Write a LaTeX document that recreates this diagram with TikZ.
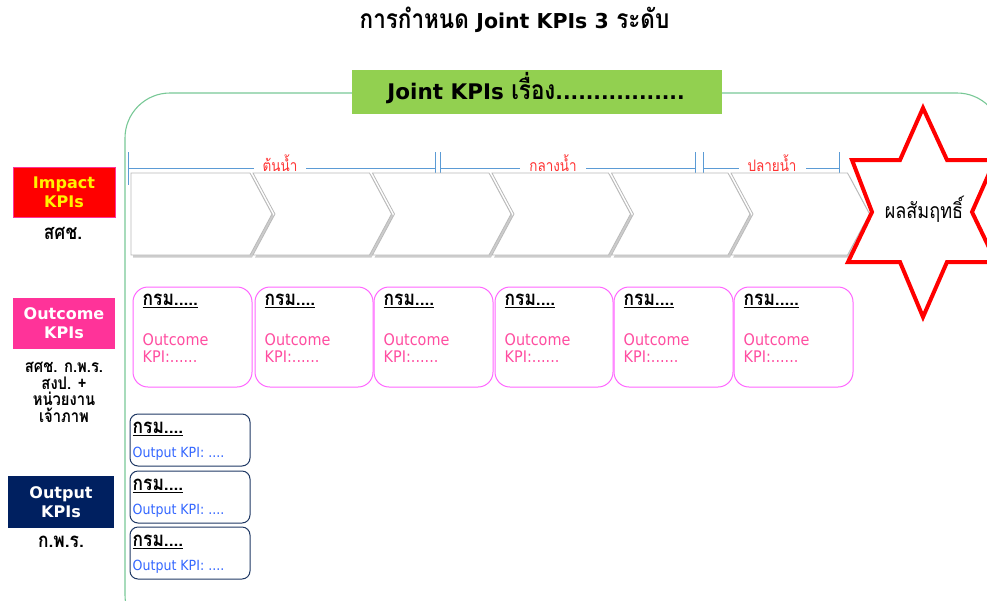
\documentclass[tikz,border=0pt]{standalone}
\usepackage{fontspec}
\usetikzlibrary{calc}
\newfontfamily\thf[Script=Thai,Scale=1.2,FakeStretch=0.85]{Loma}
\newfontfamily\latr[FakeStretch=0.9]{DejaVu Sans}
\newfontfamily\latb{DejaVu Sans}
\definecolor{framegreen}{RGB}{120,200,150}
\definecolor{bannergreen}{RGB}{146,208,80}
\definecolor{dimblue}{RGB}{91,155,213}
\definecolor{dimred}{RGB}{255,51,51}
\definecolor{hotpink}{RGB}{255,51,153}
\definecolor{ocpink}{RGB}{255,77,160}
\definecolor{ocborder}{RGB}{255,102,255}
\definecolor{navy}{RGB}{0,32,96}
\definecolor{opborder}{RGB}{31,56,100}
\definecolor{opblue}{RGB}{51,102,255}
\def\dfive{.....}
\def\dfour{....}
\begin{document}
\begin{tikzpicture}[x=1pt,y=-1pt,
  dim/.style={draw=dimblue,line width=1pt},
  dimlabel/.style={fill=white,inner xsep=9pt,inner ysep=1pt,text=dimred,font=\thf\fontsize{13.2}{15}\selectfont},
  chev/.style={fill=white,draw=gray!55,line width=0.8pt},
  chevshadow/.style={fill=gray!40},
  levelbox/.style={minimum width=102pt,minimum height=50pt,inner sep=0pt,align=center,font=\latb\bfseries\fontsize{16}{19}\selectfont},
  orgtext/.style={font=\thf\bfseries\fontsize{17}{19}\selectfont,anchor=base west,inner sep=0pt},
  ocbox/.style={draw=ocborder,line width=1pt,rounded corners=15pt,minimum height=100pt,inner sep=0pt},
  oclabel/.style={text=ocpink,font=\latr\fontsize{16}{17}\selectfont,anchor=base west,inner sep=0pt},
  opbox/.style={draw=opborder,line width=1pt,rounded corners=8pt,minimum width=120pt,minimum height=52pt,inner sep=0pt},
  oplabel/.style={text=opblue,font=\latr\fontsize{14}{16}\selectfont,anchor=base west,inner sep=0pt},
  who/.style={font=\thf\bfseries\fontsize{17}{17}\selectfont,align=center,inner sep=0pt},
  wholine/.style={font=\thf\bfseries\fontsize{14.5}{16}\selectfont,anchor=base,inner sep=0pt}
]
\useasboundingbox (0,0) rectangle (987,600);
\clip (0,0) rectangle (987,600);

% title
\node[inner sep=0pt,anchor=base] (title) at (514.5,28) {\thf\bfseries\fontsize{22}{24}\selectfont การกำหนด {\latb\fontsize{20.5}{24}\selectfont Joint KPIs 3} ระดับ};

% frame
\draw[framegreen,line width=1.1pt,rounded corners=45pt] (125,93) rectangle (1002,640);

% banner
\node[fill=bannergreen,minimum width=370pt,minimum height=44pt,inner sep=0pt] (banner) at (537,92) {};
\node[inner sep=0pt,anchor=base] (bannertext) at (536,99)
  {{\latb\bfseries\fontsize{21.5}{24}\selectfont Joint KPIs }{\thf\bfseries\fontsize{22}{24}\selectfont เรื่อง}{\latb\bfseries\fontsize{20}{24}\selectfont .................}};

% dimension lines
\coordinate (d0) at (128,168);
\coordinate (d1) at (435,168);
\coordinate (d2) at (440,168);
\coordinate (d3) at (695,168);
\coordinate (d4) at (703,168);
\coordinate (d5) at (839,168);
\foreach \c in {d0,d1,d2,d3,d4,d5}{
  \draw[dim] ($(\c)+(0,-16)$) -- ($(\c)+(0,17)$);
}
\draw[dim] (d0) -- (d1);
\draw[dim] (d2) -- (d3);
\draw[dim] (d4) -- (d5);
\node[dimlabel,anchor=base] (up) at (280,171) {ต้นน้ำ};
\node[dimlabel,anchor=base] (mid) at (553,171) {กลางน้ำ};
\node[dimlabel,anchor=base] (down) at (772,171) {ปลายน้ำ};

% chevrons
\begin{scope}[shift={(2,2.5)}]
\fill[chevshadow] (131,173) -- (250,173) -- (272,214) -- (250,255) -- (131,255) -- cycle;
\foreach \i in {1,2,3,4,5}{
  \pgfmathsetmacro\a{272+119.5*(\i-1)}
  \pgfmathsetmacro\b{272+119.5*\i}
  \fill[chevshadow] (\a-19,173) -- (\b-22,173) -- (\b,214) -- (\b-22,255) -- (\a-19,255) -- (\a+3,214) -- cycle;
}
\end{scope}
\filldraw[chev] (131,173) -- (250,173) -- (272,214) -- (250,255) -- (131,255) -- cycle;
\foreach \i in {1,2,3,4,5}{
  \pgfmathsetmacro\a{272+119.5*(\i-1)}
  \pgfmathsetmacro\b{272+119.5*\i}
  \filldraw[chev] (\a-19,173) -- (\b-22,173) -- (\b,214) -- (\b-22,255) -- (\a-19,255) -- (\a+3,214) -- cycle;
}

% star
\coordinate (s1) at (923,108);
\coordinate (s2) at (947,160);
\coordinate (s3) at (995,160);
\coordinate (s4) at (972,212);
\coordinate (s5) at (996,262);
\coordinate (s6) at (947,262);
\coordinate (s7) at (923,317);
\coordinate (s8) at (900,262);
\coordinate (s9) at (848,262);
\coordinate (s10) at (872,212);
\coordinate (s11) at (852,160);
\coordinate (s12) at (900,160);
\fill[gray!40,shift={(3,3)}] (s1)--(s2)--(s3)--(s4)--(s5)--(s6)--(s7)--(s8)--(s9)--(s10)--(s11)--(s12)--cycle;
\filldraw[fill=white,draw=red,line width=4pt,line join=miter] (s1)--(s2)--(s3)--(s4)--(s5)--(s6)--(s7)--(s8)--(s9)--(s10)--(s11)--(s12)--cycle;
\node[inner sep=0pt,anchor=base,font=\thf\fontsize{17.7}{19}\selectfont] (result) at (924,218) {ผลสัมฤทธิ์};

% level boxes
\node[levelbox,fill=red,draw=hotpink,text=yellow] (impact) at (64,192) {Impact\\KPIs};
\node[who,anchor=base] (impactwho) at (63,239) {สศช.};
\node[levelbox,fill=hotpink,text=white,minimum height=51pt] (outcome) at (64,323.5) {Outcome\\KPIs};
\node[wholine] (ow1) at (64,372) {สศช. ก.พ.ร.};
\node[wholine] (ow2) at (64,389) {สงป. +};
\node[wholine] (ow3) at (64,405.5) {หน่วยงาน};
\node[wholine] (ow4) at (64,422) {เจ้าภาพ};
\node[levelbox,fill=navy,text=white,minimum width=106pt,minimum height=52pt] (output) at (61,502) {Output\\KPIs};
\node[who,anchor=base] (outputwho) at (61,547) {ก.พ.ร.};

% outcome boxes
\foreach \n/\cx/\w/\dd in {1/192.5/119/\dfive,2/314/118/\dfour,3/433.5/119/\dfour,4/554/118/\dfour,5/673.5/119/\dfour,6/793.5/119/\dfive}{
  \node[ocbox,minimum width=\w pt] (oc\n) at (\cx,337) {};
  \node[orgtext] (oco\n) at ($(oc\n.north west)+(10,19)$) {\underline{กรม\dd}};
  \node[oclabel] (ock\n) at ($(oc\n.north west)+(10,59)$) {Outcome};
  \node[oclabel] (ocv\n) at ($(oc\n.north west)+(10,76)$) {KPI:\dfour..};
}

% output boxes
\foreach \n/\cy in {1/440,2/497,3/553}{
  \node[opbox] (op\n) at (190,\cy) {};
  \node[orgtext] (opo\n) at ($(op\n.north west)+(3,20)$) {\underline{กรม\dfour}};
  \node[oplabel] (opk\n) at ($(op\n.north west)+(3,44)$) {Output KPI: \dfour};
}
\end{tikzpicture}
\end{document}
